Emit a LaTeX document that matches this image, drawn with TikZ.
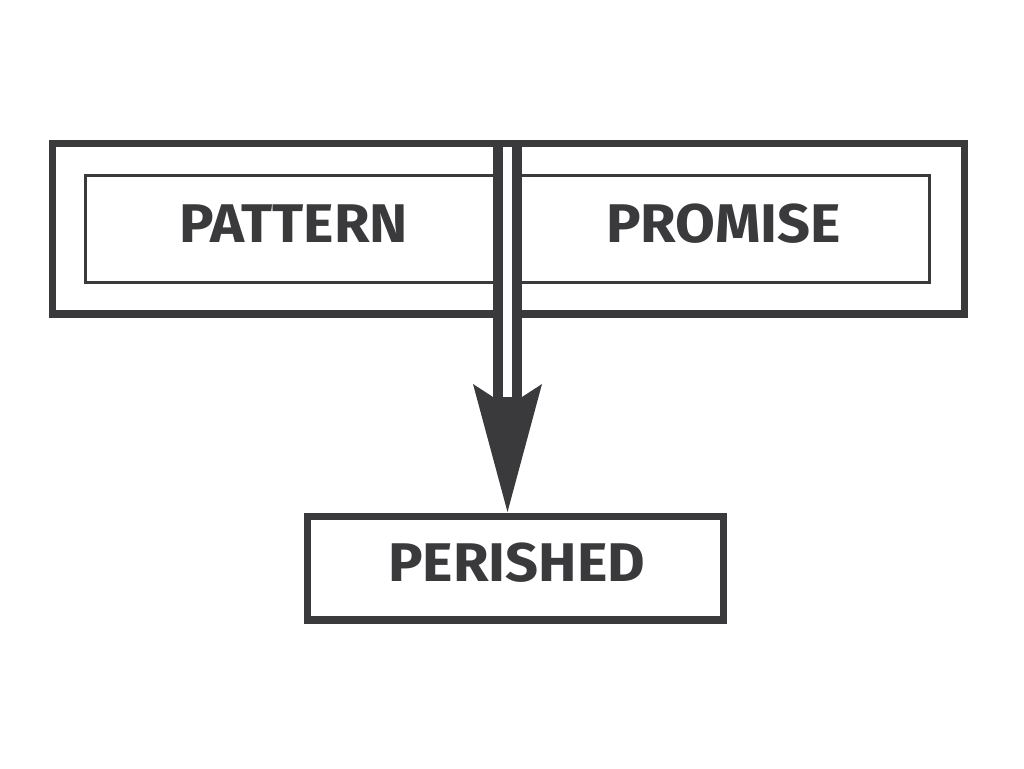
\documentclass[tikz,border=0pt]{standalone}
\usepackage{fontspec}
\setmainfont{Fira Sans}[FakeStretch=1.06]
\usepackage{tikz}
\definecolor{dunkel}{RGB}{58,57,60}

\begin{document}
\begin{tikzpicture}[
x=0.02cm, y=-0.02cm,
rahmen/.style={draw=dunkel, line width=4pt, rectangle, inner sep=0pt},
innenrahmen/.style={rahmen, line width=1.7pt},
wort/.style={dunkel, font=\fontsize{31}{31}\selectfont\bfseries, inner sep=0pt},
doppel/.style={draw=dunkel, line width=5.67pt, double=white, double distance=5.1pt},
]

\useasboundingbox (0,0) rectangle (1024,768);

% die Kaesten
\node[rahmen, minimum width=18.26cm, minimum height=3.42cm] (aussen) at (508.5,228.5) {};
\node[innenrahmen, minimum width=16.89cm, minimum height=2.15cm] (innen) at (507.25,228.75) {};
\node[rahmen, minimum width=8.33cm, minimum height=2.07cm] (kasten) at (515.75,568.25) {};

\node[wort] (pattern) at (293.5,224) {PATTERN};
\node[wort] (promise) at (723.5,224) {PROMISE};
\node[wort] (perished) at (516.5,563) {PERISHED};

% Pfeil mit Doppellinie
\coordinate (oben) at (507.5,146.5);
\coordinate (ende) at (507.5,397.5);
\coordinate (spitze) at (507.5,512);

\draw[doppel] (oben) -- (ende);
\fill[dunkel] (spitze) -- ++(-34.5,-128) -- ++(20,13) -- ++(29,0) -- ++(20,-13) -- cycle;

\end{tikzpicture}
\end{document}
